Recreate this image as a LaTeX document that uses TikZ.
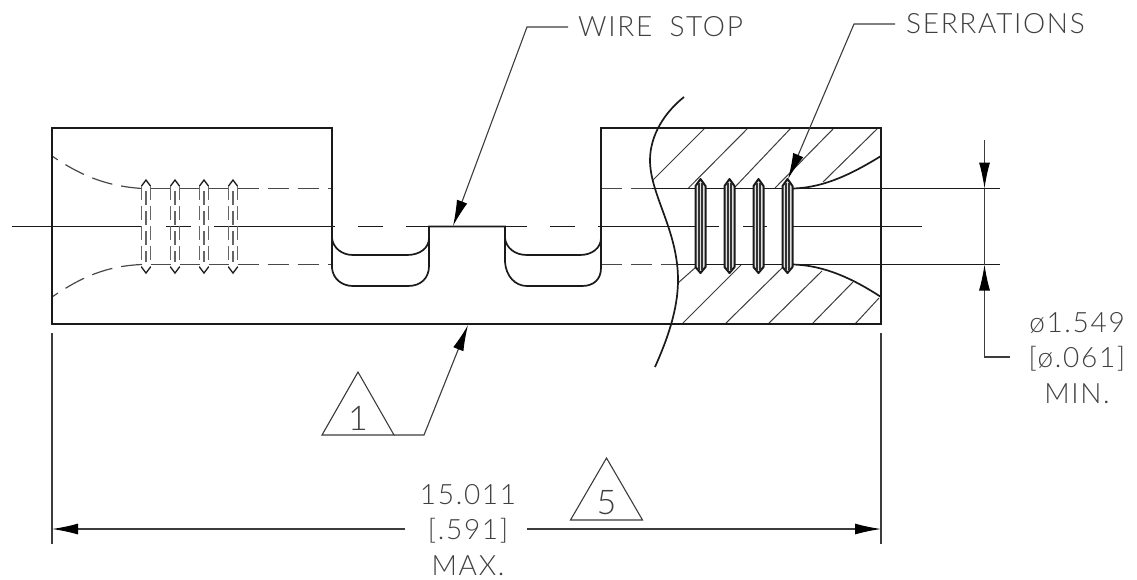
\documentclass[tikz,border=0pt]{standalone}
\usepackage{fontspec}
\setmainfont{Lato}[UprightFont=* Light,LetterSpace=6]
\usetikzlibrary{arrows.meta}
\definecolor{ink}{HTML}{1A1A1A}
\definecolor{txt}{HTML}{404040}
\tikzset{
  body/.style={draw=ink,line width=2pt},
  edge/.style={draw=ink,line width=1.7pt},
  thinl/.style={draw=ink,line width=1.3pt},
  hatch/.style={draw=ink!85,line width=1pt},
  hid/.style={draw=ink!80,line width=1.2pt,dash pattern=on 21pt off 9pt},
  hidv/.style={draw=black!60,line width=1.2pt,dash pattern=on 14pt off 6pt},
  lead/.style={draw=ink!85,line width=1.1pt,-{Latex[length=26pt,width=11pt,black]}},
  leadplain/.style={draw=ink!85,line width=1.1pt},
  lbl/.style={text=txt,inner sep=0pt,align=center,font=\fontsize{28}{35.5}\selectfont},
  num/.style={text=txt,inner sep=0pt,font=\fontsize{34}{34}\selectfont},
  tri/.style={draw=ink!85,line width=1.1pt,line join=miter}
}
\begin{document}
\begin{tikzpicture}[x=1pt,y=-1pt]
\useasboundingbox (0,0) rectangle (1137,579);
% hatching
\foreach \a/\b/\c/\d in {705/128/652.5/180.5,748/128/688/188.5,791/128/735/187,834/128/775/188,878/128/823/182,
 682/324/741/265,725/324/783/267,768/324/822/271,812/324/853/282,855/324/879/298,678/283/696/267}
  \draw[hatch] (\a,\b) -- (\c,\d);
% hidden lines, left part
\draw[hid] (237.5,188.5) -- (332,188.5);
\draw[hid] (237.5,264.5) -- (332,264.5);
\draw[hid] (142,188.5) .. controls (105,186) and (80,175) .. (52,156);
\draw[hid] (142,264.5) .. controls (105,266) and (80,278) .. (52,297);
\foreach \x/\y in {150.5/170.5,179.5/199.5,208.5/228.5}{
  \draw[thinl,draw=black!70] (\x,188.5) -- (\y,188.5);
  \draw[thinl,draw=black!70] (\x,264.5) -- (\y,264.5);
}
% hole, right part
\draw[hid] (601,188.5) -- (655,188.5);
\draw[hid] (601,264.5) -- (678,264.5);
\draw[edge] (652,188.5) -- (792,188.5);
\draw[edge] (678,264.5) -- (792,264.5);
\draw[thinl] (792,188.5) -- (1000,188.5);
\draw[thinl] (792,264.5) -- (1000,264.5);
% center line
\draw[thinl] (12,226.5) -- (142,226.5);
\draw[thinl] (166,226.5) -- (191,226.5);
\draw[thinl] (214,226.5) -- (335,226.5);
\draw[thinl] (358,226.5) -- (383,226.5);
\draw[thinl] (406,226.5) -- (429,226.5);
\draw[thinl] (505,226.5) -- (527,226.5);
\draw[thinl] (550,226.5) -- (575,226.5);
\draw[thinl] (598,226.5) -- (719,226.5);
\draw[thinl] (743,226.5) -- (767,226.5);
\draw[thinl] (791,226.5) -- (922,226.5);
% left serrations
\foreach \c in {146,175,204,233}{
  \draw[thinl] (\c-4.5,186) -- (\c,180) -- (\c+4.5,186);
  \draw[thinl] (\c-4.5,267) -- (\c,273) -- (\c+4.5,267);
  \draw[hidv] (\c-4.5,186) -- (\c-4.5,267);
  \draw[hidv] (\c+4.5,186) -- (\c+4.5,267);
  \draw[hidv] (\c,191) -- (\c,262);
}
% right serrations
\foreach \c in {700.5,729.5,758.5,787.5}{
  \fill[black!12] (\c-5,186) -- (\c,179) -- (\c+5,186) -- (\c+5,267) -- (\c,273) -- (\c-5,267) -- cycle;
  \draw[edge,line width=2pt,line join=round] (\c-5,186) -- (\c,179) -- (\c+5,186) -- (\c+5,267) -- (\c,273) -- (\c-5,267) -- cycle;
  \draw[draw=black!80,line width=1.1pt] (\c-1.5,183) -- (\c-1.5,270);
  \draw[draw=black!80,line width=1.1pt] (\c+1.5,183) -- (\c+1.5,270);
}
% flare, right
\draw[edge] (792,188.5) .. controls (825,188) and (855,172) .. (881,156);
\draw[edge] (792,264.5) .. controls (825,265) and (855,280) .. (881,297);
% break line
\draw[edge] (684,97) .. controls (665,112) and (650,135) .. (650,160)
  .. controls (650,195) and (678,230) .. (678,280)
  .. controls (678,310) and (667,340) .. (655,367);
% body outline
\draw[body] (332,268) -- (332,128) -- (52,128) -- (52,324) -- (881,324) -- (881,128) -- (601,128) -- (601,268);
\draw[edge] (332,238) .. controls (333,248) and (342,255) .. (353,255) -- (407,255) .. controls (420,255) and (429,248) .. (429,238);
\draw[edge] (332,268) .. controls (333,279) and (342,286) .. (353,286) -- (408,286) .. controls (421,286) and (429,278) .. (429,266) -- (429,226.5) -- (505,226.5) -- (505,262)
  .. controls (506,276) and (515,286) .. (527,286) -- (582,286) .. controls (594,286) and (601,279) .. (601,268);
\draw[edge] (505,238) .. controls (506,248) and (515,255) .. (527,255) -- (580,255) .. controls (592,255) and (601,248) .. (601,238);
% text
\node[lbl,anchor=west] (wire) at (578,27) {WIRE\hspace{8pt} STOP};
\node[lbl,anchor=west] (serr) at (906,24) {SERRATIONS};
\node[lbl] (dia) at (1077,358) {ø1.549\\{}[ø.061]\\MIN.};
\node[lbl] (len) at (468,530) {15.011\\{}[.591]\\MAX.};
% leaders
\coordinate (wa) at (568,27); \coordinate (wb) at (527,27); \coordinate (wt) at (453,226);
\draw[lead] (wa) -- (wb) -- (wt);
\coordinate (sa) at (895,24); \coordinate (sb) at (854,24); \coordinate (st) at (788,179);
\draw[lead] (sa) -- (sb) -- (st);
% triangles
\coordinate (t1a) at (322,435); \coordinate (t1b) at (394,435); \coordinate (t1c) at (358,372);
\draw[tri] (t1a) -- (t1b) -- (t1c) -- cycle;
\node[num] (n1) at (358,418) {1};
\coordinate (l1a) at (424,435); \coordinate (l1t) at (468,325);
\draw[lead] (t1b) -- (l1a) -- (l1t);
\coordinate (t5a) at (570.5,520); \coordinate (t5b) at (642.5,520); \coordinate (t5c) at (606.5,458);
\draw[tri] (t5a) -- (t5b) -- (t5c) -- cycle;
\node[num] (n5) at (606.5,503) {5};
% dimensions
\coordinate (xl1) at (52,333); \coordinate (xl2) at (52,544);
\coordinate (xr1) at (881,333); \coordinate (xr2) at (881,544);
\draw[leadplain] (xl1) -- (xl2);
\draw[leadplain] (xr1) -- (xr2);
\coordinate (dl) at (52,529); \coordinate (dm1) at (405,529); \coordinate (dm2) at (527,529); \coordinate (dr) at (881,529);
\draw[lead] (dm1) -- (dl);
\draw[lead] (dm2) -- (dr);
\coordinate (va) at (984.5,140); \coordinate (vb) at (984.5,188.5); \coordinate (vc) at (984.5,264.5); \coordinate (vd) at (984.5,357); \coordinate (ve) at (1010,357);
\draw[lead] (va) -- (vb);
\draw[leadplain] (vb) -- (vc);
\draw[lead] (ve) -- (vd) -- (vc);
\end{tikzpicture}
\end{document}
